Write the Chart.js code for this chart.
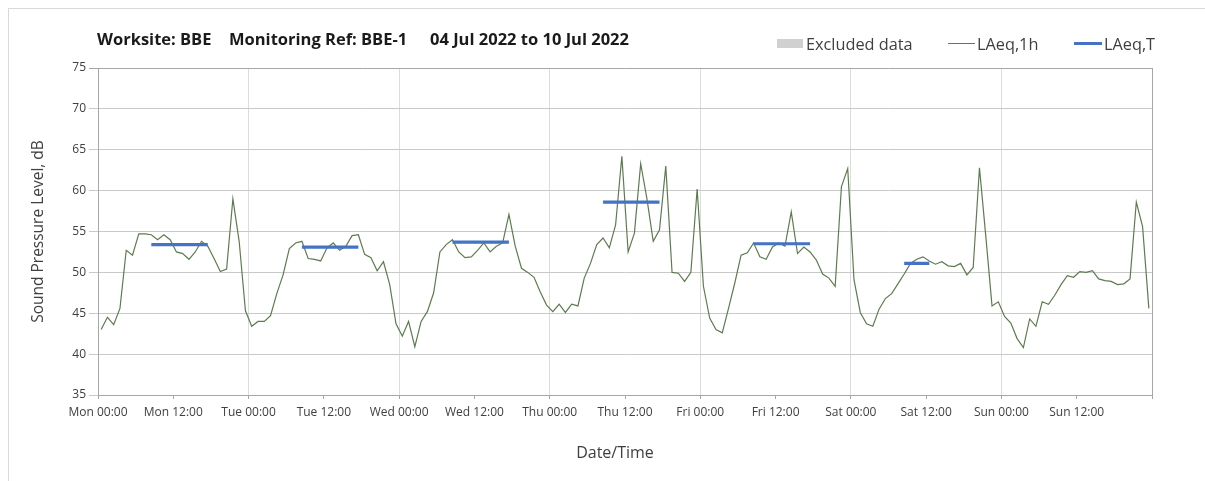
<!DOCTYPE html>
<html>
<head>
<meta charset="utf-8">
<title>BBE-1 noise monitoring</title>
<script src="https://cdn.jsdelivr.net/npm/chart.js@4/dist/chart.umd.min.js"></script>
<style>
  body { margin: 0; background: #fff; font-family: 'Open Sans', sans-serif; }
  #wrap { position: relative; width: 1205px; height: 481px; overflow: hidden; }
  #frame { position: absolute; left: 8px; top: 8px; right: -4px; bottom: -4px;
           border-top: 1px solid #d9d9d9; border-left: 1px solid #d9d9d9; }
  canvas { position: absolute; left: 0; top: 0; }
  .title { position: absolute; top: 29px; line-height: 20px; font-size: 16.5px; font-weight: bold;
           color: #1a1a1a; white-space: nowrap; }
  .legend { position: absolute; top: 34px; line-height: 20px; font-size: 16.3px; color: #404040; white-space: nowrap; }
  .swatch { position: absolute; }
  #xtitle { position: absolute; top: 442px; left: 515px; width: 200px; text-align: center;
            line-height: 20px; font-size: 16px; color: #404040; }
</style>
</head>
<body>
<div id="wrap">
  <div id="frame"></div>
  <canvas id="noiseChart" width="1205" height="481"></canvas>

  <div class="title" style="left:97px">Worksite: BBE</div>
  <div class="title" style="left:229px">Monitoring Ref: BBE-1</div>
  <div class="title" style="left:430px">04 Jul 2022 to 10 Jul 2022</div>

  <div class="swatch" style="left:777px;top:39px;width:26px;height:9px;background:#d0d0d0"></div>
  <div class="legend" style="left:806px">Excluded data</div>
  <div class="swatch" style="left:948px;top:43px;width:27px;height:1px;background:#5e7b50"></div>
  <div class="legend" style="left:977px">LAeq,1h</div>
  <div class="swatch" style="left:1074px;top:42px;width:28px;height:3px;background:#4472c4"></div>
  <div class="legend" style="left:1104px">LAeq,T</div>

  <div id="xtitle">Date/Time</div>
</div>

<script>
// Hourly LAeq,1h (dB), one array per day, 00:00 .. 23:00
const mon = [43.0, 44.5, 43.6, 45.6, 52.7, 52.1, 54.7, 54.7, 54.6, 54.0, 54.6, 54.0,
             52.5, 52.3, 51.6, 52.5, 53.8, 53.2, 51.7, 50.1, 50.4, 59.0, 53.8, 45.3];
const tue = [43.4, 44.0, 44.0, 44.7, 47.4, 49.7, 52.9, 53.6, 53.8, 51.7, 51.6, 51.4,
             53.0, 53.6, 52.7, 53.2, 54.5, 54.6, 52.2, 51.8, 50.2, 51.3, 48.5, 43.7];
const wed = [42.2, 44.0, 40.9, 44.0, 45.2, 47.5, 52.5, 53.4, 54.0, 52.5, 51.8, 51.9,
             52.7, 53.6, 52.5, 53.2, 53.6, 57.1, 53.2, 50.5, 50.0, 49.4, 47.6, 46.0];
const thu = [45.2, 46.1, 45.1, 46.1, 45.9, 49.3, 51.1, 53.4, 54.2, 53.0, 55.8, 64.2,
             52.5, 54.8, 63.3, 59.0, 53.8, 55.2, 63.0, 50.0, 49.9, 48.9, 50.0, 60.2];
const fri = [48.3, 44.4, 43.0, 42.6, 45.6, 48.7, 52.1, 52.4, 53.6, 51.9, 51.6, 53.1,
             53.6, 53.2, 57.4, 52.3, 53.1, 52.5, 51.5, 49.8, 49.3, 48.3, 60.5, 62.7];
const sat = [49.1, 45.1, 43.7, 43.4, 45.5, 46.8, 47.4, 48.6, 49.8, 51.1, 51.6, 51.9,
             51.4, 51.0, 51.3, 50.8, 50.7, 51.1, 49.7, 50.6, 62.8, 54.5, 45.9, 46.4];
const sun = [44.6, 43.8, 41.9, 40.8, 44.3, 43.4, 46.4, 46.1, 47.2, 48.5, 49.6, 49.4,
             50.1, 50.0, 50.2, 49.2, 49.0, 48.9, 48.5, 48.6, 49.2, 58.6, 55.6, 45.6];

// LAeq,T periods: first and last hour (hours from Mon 00:00) and level
const periodFirstHour = [8, 32, 56, 80, 104, 128];
const periodLastHour = [17, 41, 65, 89, 113, 132];
const periodLevel = [53.4, 53.1, 53.7, 58.6, 53.5, 51.1];

const dayNames = ['Mon', 'Tue', 'Wed', 'Thu', 'Fri', 'Sat', 'Sun'];
const yTicks = { min: 35, max: 75, step: 5 };

const hourly = [mon, tue, wed, thu, fri, sat, sun].flat();
const hourlyPoints = hourly.map((v, i) => ({ x: i + 0.5, y: v }));

const periodPoints = [];
periodFirstHour.forEach((h, k) => {
    periodPoints.push({ x: h + 0.5, y: periodLevel[k] });
    periodPoints.push({ x: periodLastHour[k] + 0.5, y: periodLevel[k] });
    periodPoints.push({ x: periodLastHour[k] + 1, y: null });
});

const tickFont = { family: 'Open Sans', size: 12 };

new Chart(document.getElementById('noiseChart'), {
    type: 'line',
    data: {
        datasets: [{
            label: 'LAeq,T',
            data: periodPoints,
            borderColor: '#4472c4',
            borderWidth: 3.2,
            pointRadius: 0,
            spanGaps: false
        }, {
            label: 'LAeq,1h',
            data: hourlyPoints,
            borderColor: '#5e7b50',
            borderWidth: 1.2,
            pointRadius: 0,
            tension: 0
        }]
    },
    options: {
        responsive: false,
        animation: false,
        devicePixelRatio: 1,
        layout: { padding: { top: 68, right: 53, left: 0, bottom: 0 } },
        plugins: {
            legend: { display: false },
            tooltip: { enabled: false }
        },
        scales: {
            x: {
                type: 'linear',
                min: 0,
                max: 168,
                ticks: {
                    stepSize: 12,
                    autoSkip: false,
                    maxRotation: 0,
                    padding: 6,
                    color: '#404040',
                    font: tickFont,
                    callback: v => v >= 168 ? '' : dayNames[Math.floor(v / 24)] + (v % 24 === 0 ? ' 00:00' : ' 12:00')
                },
                grid: {
                    color: ctx => ctx.tick.value === 168 ? '#a6a6a6' : (ctx.tick.value % 24 === 0 ? '#dcdcdc' : 'rgba(0,0,0,0)'),
                    tickColor: '#a6a6a6',
                    tickLength: 4
                },
                border: { color: '#a6a6a6' },
                afterFit: s => { s.height = 86; }
            },
            y: {
                min: yTicks.min,
                max: yTicks.max,
                ticks: { stepSize: yTicks.step, padding: 3, color: '#404040', font: tickFont },
                grid: {
                    color: ctx => ctx.tick.value === yTicks.max ? '#a6a6a6' : '#c9c9c9',
                    tickLength: 9
                },
                border: { color: '#a6a6a6' },
                title: {
                    display: true,
                    text: 'Sound Pressure Level, dB',
                    color: '#404040',
                    font: { family: 'Open Sans', size: 15.5 },
                    padding: { top: 29, bottom: 0 }
                },
                afterFit: s => { s.width = 98; }
            }
        }
    }
});
</script>
</body>
</html>
